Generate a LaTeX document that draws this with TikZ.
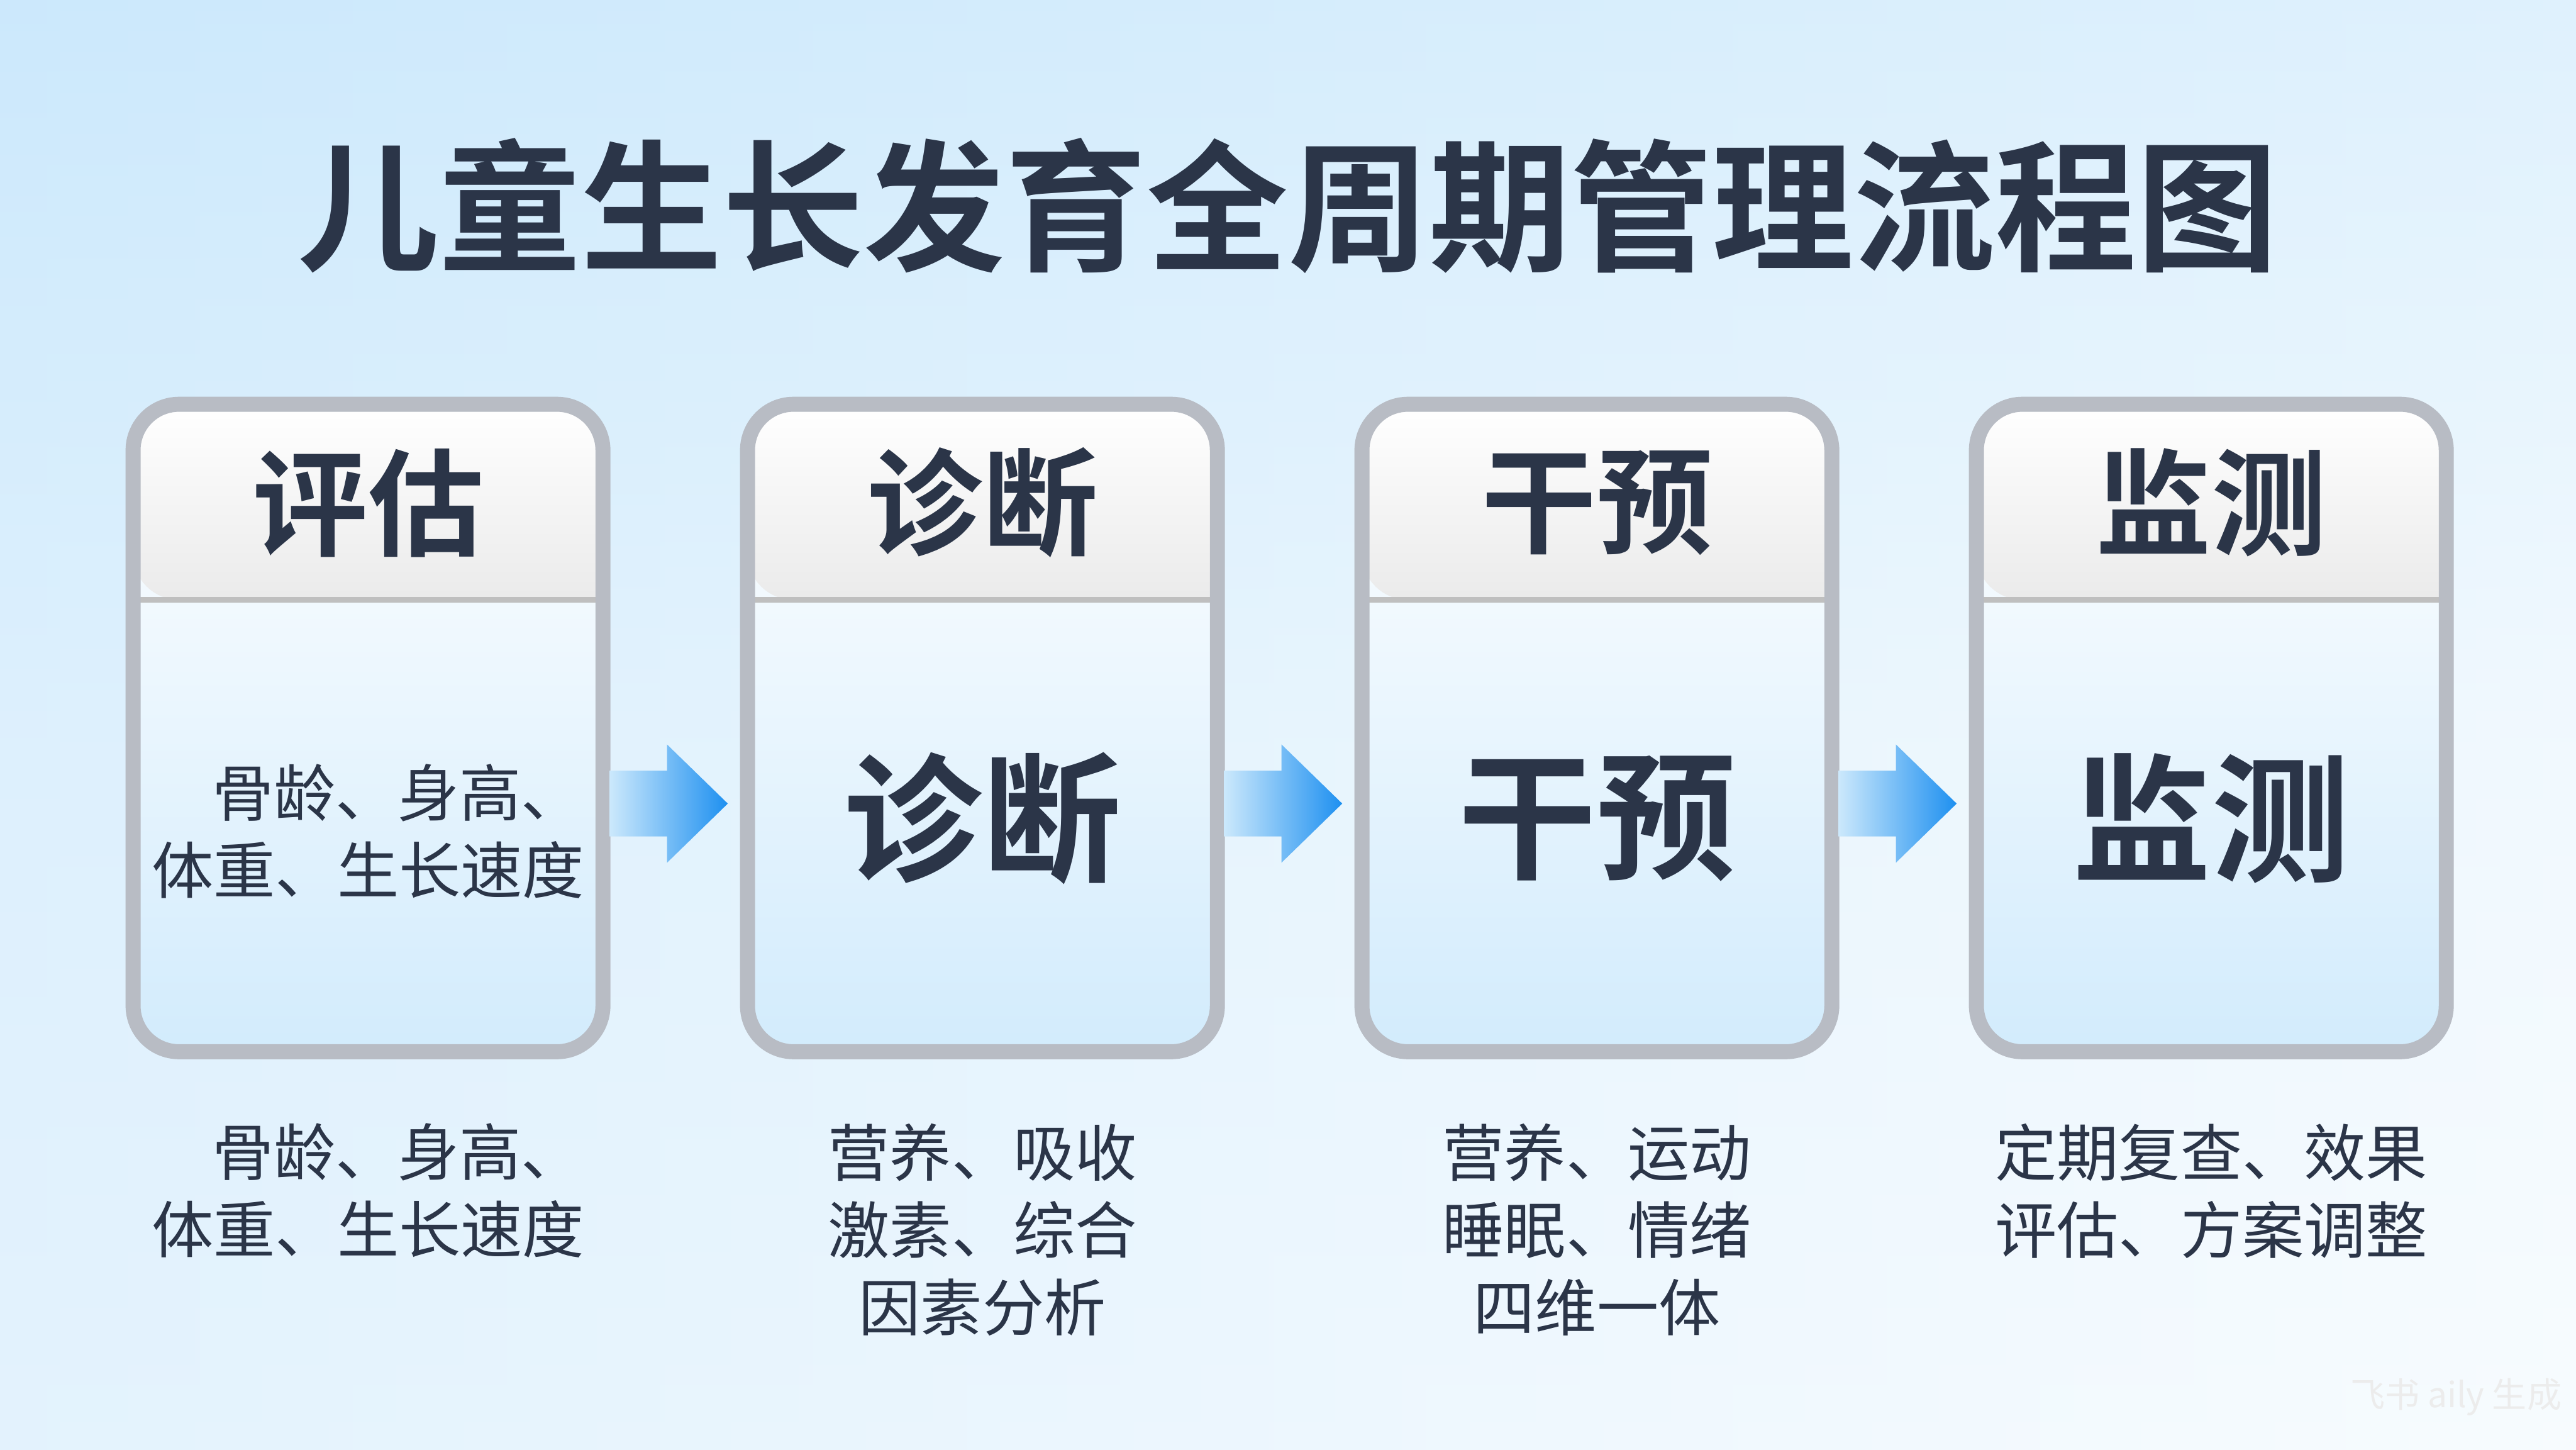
\documentclass[tikz,border=0pt]{standalone}
\usepackage{fontspec}
\setmainfont{Noto Sans CJK SC}
\newfontfamily\cjkbold{Noto Sans CJK SC Bold}
\usetikzlibrary{positioning,calc}
\definecolor{inkdark}{HTML}{2B3548}
\definecolor{bgblue}{HTML}{BFE3FB}
\definecolor{rimgray}{HTML}{B8BCC4}
\definecolor{arrowblue}{HTML}{1E90F0}
\begin{document}
\begin{tikzpicture}[
  card/.style={minimum width=2.86cm, minimum height=3.94cm, inner sep=0pt},
  headtxt/.style={font=\cjkbold\fontsize{20pt}{22pt}\selectfont, text=inkdark},
  bigtxt/.style={font=\cjkbold\fontsize{24pt}{26pt}\selectfont, text=inkdark},
  smalltxt/.style={font=\fontsize{10.7pt}{13.4pt}\selectfont, text=inkdark, align=center},
  every node/.style={outer sep=0pt}
]
  % background
  \shade[top color=bgblue, bottom color=bgblue!25, middle color=bgblue!45] (0,0) rectangle (15.68,8.82);
  \shade[left color=bgblue!60, right color=white, opacity=0.5] (0,0) rectangle (15.68,8.82);
  \useasboundingbox (0,0) rectangle (15.68,8.82);

  % title
  \node[font=\cjkbold\fontsize{24.5pt}{26pt}\selectfont, text=inkdark] (title) at (7.84,7.57) {儿童生长发育全周期管理流程图};

  % cards
  \foreach \i/\x/\head/\cap in {1/2.24/评估/{\hspace*{0.36cm}骨龄、身高、\\体重、生长速度},
                                 2/5.98/诊断/{营养、吸收\\激素、综合\\因素分析},
                                 3/9.72/干预/{营养、运动\\睡眠、情绪\\四维一体},
                                 4/13.46/监测/{定期复查、效果\\评估、方案调整}} {
    \node[card] (c\i) at (\x,4.39) {};
    \shade[top color=white, bottom color=bgblue!70, rounded corners=0.28cm]
      (c\i.north west) rectangle (c\i.south east);
    \shade[top color=white, bottom color=black!8, rounded corners=0.28cm]
      (c\i.north west) -- ($(c\i.north west)+(0,-1.19)$) [sharp corners] -- ($(c\i.north east)+(0,-1.19)$) [rounded corners=0.28cm] -- (c\i.north east) -- cycle;
    \draw[black!25, line width=1pt] ($(c\i.north west)+(0,-1.19)$) -- ($(c\i.north east)+(0,-1.19)$);
    \draw[rimgray, line width=2.6pt, rounded corners=0.28cm] (c\i.north west) rectangle (c\i.south east);
    \node[headtxt] (h\i) at ($(c\i.north)+(0,-0.6)$) {\head};
    \node[smalltxt, below=0.32cm of c\i] (cap\i) {\cap};
  }
  \node[smalltxt] (b1) at ($(c1.center)+(0,-0.63)$) {\hspace*{0.36cm}骨龄、身高、\\体重、生长速度};
  \node[bigtxt] (b2) at ($(c2.center)+(0,-0.55)$) {诊断};
  \node[bigtxt] (b3) at ($(c3.center)+(0,-0.55)$) {干预};
  \node[bigtxt] (b4) at ($(c4.center)+(0,-0.55)$) {监测};

  % arrows
  \foreach \a/\b in {1/2, 2/3, 3/4} {
    \coordinate (s\a) at ($(c\a.east)+(0.04,-0.46)$);
    \coordinate (t\a) at ($(c\b.west)+(-0.12,-0.46)$);
    \shade[left color=bgblue!80, right color=arrowblue]
      ($(s\a)+(0,0.2)$) -- ($(t\a)+(-0.37,0.2)$) -- ($(t\a)+(-0.37,0.36)$) -- (t\a)
      -- ($(t\a)+(-0.37,-0.36)$) -- ($(t\a)+(-0.37,-0.2)$) -- ($(s\a)+(0,-0.2)$) -- cycle;
  }

  % watermark
  \node[font=\fontsize{6pt}{7pt}\selectfont, text=white!85!gray] (mark) at (14.95,0.32) {飞书 aily 生成};
\end{tikzpicture}
\end{document}
